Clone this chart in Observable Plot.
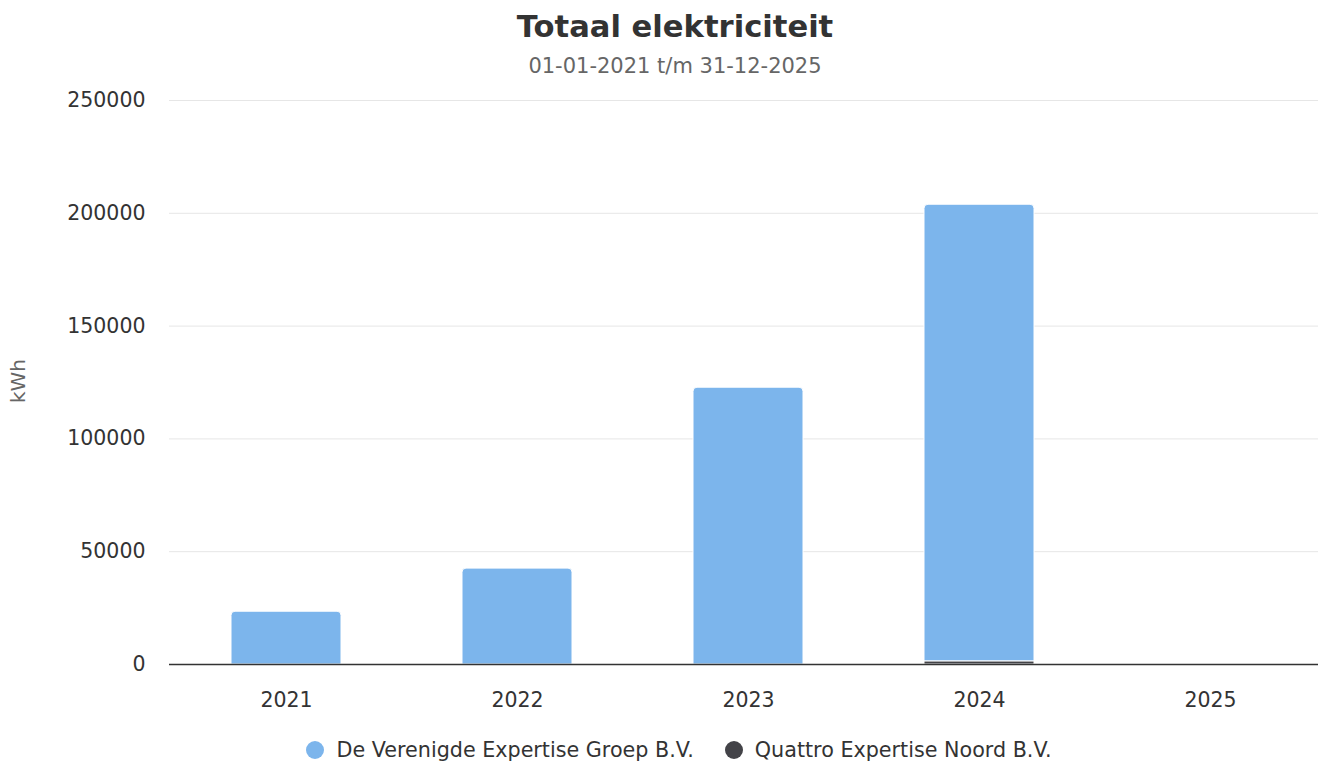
<!DOCTYPE html>
<html>
<head>
<meta charset="utf-8">
<script src="https://cdn.jsdelivr.net/npm/d3@7"></script>
<script src="https://cdn.jsdelivr.net/npm/@observablehq/plot@0.6"></script>
<style>
  html, body { margin: 0; padding: 0; background: #fff; }
  body { width: 1318px; height: 765px; position: relative; overflow: hidden; font-family: "DejaVu Sans", Verdana, sans-serif; }
  #title { position: absolute; top: 9px; left: 0; width: 1350px; text-align: center; font-size: 30.6px; font-weight: bold; color: #333; }
  #subtitle { position: absolute; top: 54px; left: 0; width: 1350px; text-align: center; font-size: 21px; color: #666; }
  #chart { position: absolute; top: 80px; left: 0; width: 1350px; height: 640px; }
  #chart svg { max-width: none !important; width: 1350px; height: 640px; }
  #ylabel { position: absolute; z-index: 2; left: 18px; top: 381px; transform: translate(-50%, -50%) rotate(-90deg); font-size: 20px; color: #666; white-space: nowrap; }
  #legend { position: absolute; top: 738px; left: 0; width: 1358px; display: flex; justify-content: center; gap: 31px; font-size: 20.7px; color: #333; }
  .item { display: flex; align-items: center; gap: 12px; }
  .dot { width: 18px; height: 18px; border-radius: 50%; display: inline-block; }
</style>
</head>
<body>
<div id="title">Totaal elektriciteit</div>
<div id="subtitle">01-01-2021 t/m 31-12-2025</div>
<div id="chart"></div>
<div id="ylabel">kWh</div>
<div id="legend"></div>
<script>
const years = ["2021", "2022", "2023", "2024", "2025"];
const seriesNames = ["De Verenigde Expertise Groep B.V.", "Quattro Expertise Noord B.V."];
const seriesColors = ["#7cb5ec", "#434348"];
const verenigde = [23400, 42500, 122700, 202400, 0];
const quattro = [0, 0, 0, 1400, 0];
const yTicks = [0, 50000, 100000, 150000, 200000, 250000];

const rows = years.map((year, i) => ({year, q: quattro[i], v: verenigde[i]}));

const chart = Plot.plot({
  width: 1350,
  height: 640,
  marginLeft: 169,
  marginRight: 24,
  marginTop: 20,
  marginBottom: 56,
  style: {fontFamily: "DejaVu Sans, Verdana, sans-serif", fontSize: "20.5px", color: "#333", background: "white", maxWidth: "none"},
  x: {domain: years, paddingInner: 0.525, paddingOuter: 0.2625, label: null, tickSize: 0, tickPadding: 28},
  y: {domain: [0, 250000], ticks: yTicks, tickFormat: d => String(d), label: null, tickSize: 0, tickPadding: 24, grid: false},
  marks: [
    Plot.gridY(yTicks, {stroke: "#e6e6e6", strokeOpacity: 1, strokeWidth: 1}),
    Plot.barY(rows.filter(d => d.q > 0), {x: "year", y1: 0, y2: "q", fill: seriesColors[1], stroke: "white", strokeWidth: 1}),
    Plot.barY(rows.filter(d => d.v > 0), {x: "year", y1: "q", y2: d => d.q + d.v, fill: seriesColors[0], stroke: "white", strokeWidth: 1, ry1: 4}),
    Plot.ruleY([0], {stroke: "#333", strokeWidth: 1.5})
  ]
});
document.getElementById("chart").appendChild(chart);

const legend = document.getElementById("legend");
seriesNames.forEach((name, i) => {
  const item = document.createElement("div");
  item.className = "item";
  const dot = document.createElement("span");
  dot.className = "dot";
  dot.style.background = seriesColors[i];
  const label = document.createElement("span");
  label.textContent = name;
  item.appendChild(dot);
  item.appendChild(label);
  legend.appendChild(item);
});
</script>
</body>
</html>
